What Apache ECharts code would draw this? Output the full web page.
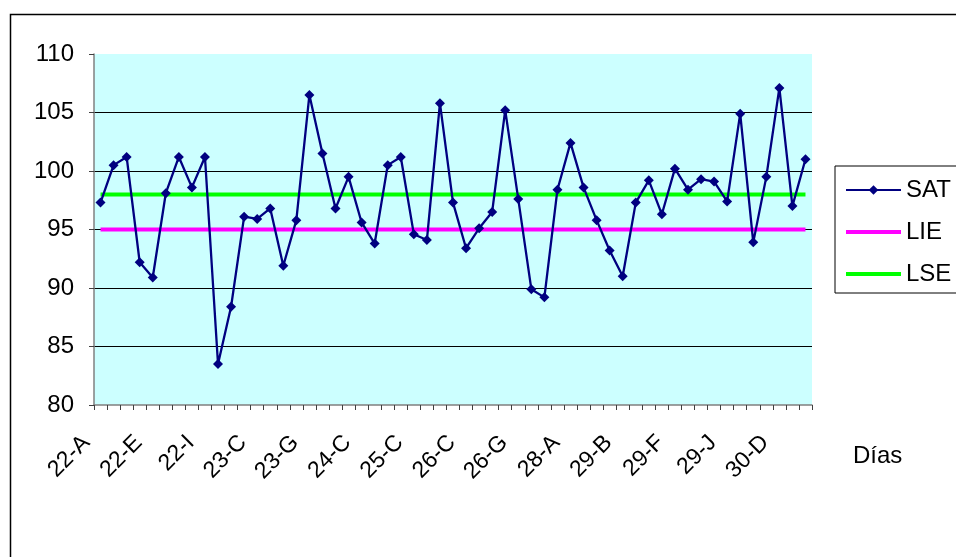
<!DOCTYPE html>
<html>
<head>
<meta charset="utf-8">
<script src="https://cdn.jsdelivr.net/npm/echarts@6/dist/echarts.min.js"></script>
<style>
html,body{margin:0;padding:0;background:#fff;}
#c{width:956px;height:557px;}
</style>
</head>
<body>
<div id="c"></div>
<script>
var categories = [
  '22-A','22-B','22-C','22-D','22-E','22-F','22-G','22-H','22-I','22-J',
  '23-A','23-B','23-C','23-D','23-E','23-F','23-G','23-H',
  '24-A','24-B','24-C','24-D',
  '25-A','25-B','25-C','25-D',
  '26-A','26-B','26-C','26-D','26-E','26-F','26-G','26-H','26-I','26-J',
  '28-A','28-B','28-C',
  '29-A','29-B','29-C','29-D','29-E','29-F','29-G','29-H','29-I','29-J',
  '30-A','30-B','30-C','30-D','30-E','30-F'
];
var satValues = [
  97.3,100.5,101.2,92.2,90.9,98.1,101.2,98.6,101.2,83.5,
  88.4,96.1,95.9,96.8,91.9,95.8,106.5,101.5,
  96.8,99.5,95.6,93.8,
  100.5,101.2,94.6,94.1,
  105.8,97.3,93.4,95.1,96.5,105.2,97.6,89.9,89.2,98.4,
  102.4,98.6,95.8,
  93.2,91.0,97.3,99.2,96.3,100.2,98.4,99.3,99.1,97.4,
  104.9,93.9,99.5,107.1,97.0,101.0
];
var lieValues = [
  95,95,95,95,95,95,95,95,95,95,95,95,95,95,95,95,95,95,95,95,
  95,95,95,95,95,95,95,95,95,95,95,95,95,95,95,95,95,95,95,95,
  95,95,95,95,95,95,95,95,95,95,95,95,95,95,95
];
var lseValues = [
  98,98,98,98,98,98,98,98,98,98,98,98,98,98,98,98,98,98,98,98,
  98,98,98,98,98,98,98,98,98,98,98,98,98,98,98,98,98,98,98,98,
  98,98,98,98,98,98,98,98,98,98,98,98,98,98,98
];
var yMin = 80, yMax = 110, yStep = 5;
var xAxisTitle = 'Días';

var FONT = '"Liberation Sans", Arial, sans-serif';
var LINE_ICON = 'path://M0,0L55,0L55,4L0,4Z';
var chart = echarts.init(document.getElementById('c'), null, {renderer: 'canvas'});
chart.setOption({
  animation: false,
  backgroundColor: '#ffffff',
  textStyle: {fontFamily: FONT},
  grid: {
    left: 94, top: 54, right: 144, bottom: 152,
    show: true, backgroundColor: '#CCFFFF', borderWidth: 0
  },
  legend: {
    orient: 'vertical',
    left: 835, top: 166,
    padding: [12, 70, 7, 10],
    itemGap: 18,
    itemWidth: 55, itemHeight: 12,
    symbolKeepAspect: true,
    borderColor: '#000', borderWidth: 1,
    textStyle: {fontFamily: FONT, fontSize: 24, color: '#000'},
    data: [
      {name: 'SAT'},
      {name: 'LIE', icon: LINE_ICON},
      {name: 'LSE', icon: LINE_ICON}
    ]
  },
  graphic: [
    {type: 'rect', left: 8, top: 12, shape: {width: 1000, height: 1000},
     style: {fill: 'none', stroke: '#000', lineWidth: 1.5}, z: 100, silent: true},
    {type: 'text', x: 853, y: 456,
     style: {text: xAxisTitle, font: '24px ' + FONT, fill: '#000', textVerticalAlign: 'middle'}}
  ],
  xAxis: {
    type: 'category',
    data: categories,
    boundaryGap: true,
    axisLine: {lineStyle: {color: '#808080', width: 1.5}},
    axisTick: {show: true, interval: 0, length: 5, lineStyle: {color: '#404040'}},
    axisLabel: {
      interval: 3, rotate: 45, margin: 20, padding: [0, 20, 0, 0],
      fontFamily: FONT, fontSize: 23, color: '#000'
    },
    splitLine: {show: false}
  },
  yAxis: {
    type: 'value',
    min: yMin, max: yMax, interval: yStep,
    axisLine: {show: true, lineStyle: {color: '#808080', width: 1.5}},
    axisTick: {show: true, length: 5, lineStyle: {color: '#404040'}},
    axisLabel: {margin: 20, fontFamily: FONT, fontSize: 24, color: '#000'},
    splitLine: {show: true, showMinLine: false, showMaxLine: false, lineStyle: {color: '#000', width: 1}}
  },
  series: [
    {
      name: 'SAT', type: 'line', data: satValues,
      symbol: 'diamond', symbolSize: 10, showSymbol: true, showAllSymbol: true,
      lineStyle: {color: '#000080', width: 2.3},
      itemStyle: {color: '#000080'},
      z: 5
    },
    {
      name: 'LIE', type: 'line', data: lieValues,
      symbol: 'none',
      lineStyle: {color: '#FF00FF', width: 4},
      itemStyle: {color: '#FF00FF'},
      z: 3
    },
    {
      name: 'LSE', type: 'line', data: lseValues,
      symbol: 'none',
      lineStyle: {color: '#00FF00', width: 4},
      itemStyle: {color: '#00FF00'},
      z: 3
    }
  ]
});
</script>
</body>
</html>
